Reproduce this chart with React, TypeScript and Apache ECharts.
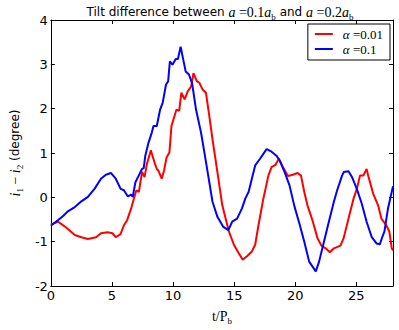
import React, { useEffect, useRef } from "react";
import * as echarts from "echarts";

const seriesNames = ["α=0.01", "α=0.1"];
const seriesColors = ["#ff0000", "#0000ff"];

const redT = [0, 0.6, 1.15, 1.96, 2.5, 3.03, 3.7, 4.1, 4.64, 5.04, 5.31, 5.7, 5.98, 6.25, 6.57, 6.79, 7.0, 7.2, 7.46, 7.67, 7.86, 8.18, 8.48, 8.67, 8.8, 9.07, 9.26, 9.47, 9.7, 9.87, 10.28, 10.5, 10.68, 10.95, 11.2, 11.48, 11.67, 11.94, 12.16, 12.42, 12.69, 12.96, 13.23, 13.63, 14.03, 14.57, 14.98, 15.38, 15.7, 16.05, 16.45, 16.72, 16.99, 17.39, 17.8, 18.06, 18.38, 18.65, 19.0, 19.4, 19.8, 20.2, 20.47, 20.74, 21.0, 21.4, 21.82, 22.14, 22.49, 22.83, 23.16, 23.7, 23.96, 24.36, 24.77, 25.04, 25.3, 25.57, 25.84, 25.97, 26.38, 26.78, 27.05, 27.45, 27.7, 27.9, 28.0];
const redY = [-0.61, -0.55, -0.66, -0.85, -0.9, -0.94, -0.9, -0.81, -0.79, -0.81, -0.9, -0.83, -0.63, -0.51, -0.25, -0.03, 0.16, 0.12, 0.57, 0.46, 0.75, 1.06, 0.79, 0.64, 0.6, 0.42, 0.6, 0.9, 1.01, 1.61, 1.98, 1.95, 2.36, 2.21, 2.39, 2.5, 2.8, 2.62, 2.58, 2.43, 2.36, 1.85, 1.3, 0.57, -0.18, -0.77, -1.07, -1.26, -1.41, -1.33, -1.22, -1.07, -0.63, -0.03, 0.49, 0.68, 0.73, 0.87, 0.68, 0.48, 0.51, 0.55, 0.49, 0.12, -0.18, -0.51, -0.92, -1.09, -1.15, -1.24, -1.15, -1.09, -0.92, -0.48, -0.03, 0.19, 0.49, 0.49, 0.64, 0.49, 0.08, -0.18, -0.48, -0.63, -0.77, -1.15, -1.2];

const blueT = [0, 0.6, 1.0, 1.42, 1.96, 2.5, 3.03, 3.57, 4.1, 4.5, 4.91, 5.31, 5.71, 5.98, 6.3, 6.57, 6.7, 6.92, 7.19, 7.46, 7.6, 7.73, 8.0, 8.26, 8.4, 8.67, 8.94, 9.15, 9.42, 9.6, 9.74, 9.95, 10.22, 10.4, 10.62, 10.81, 11.03, 11.3, 11.56, 11.88, 12.29, 12.56, 12.83, 13.23, 13.63, 14.09, 14.52, 14.84, 15.24, 15.64, 15.91, 16.18, 16.45, 16.72, 17.12, 17.39, 17.66, 18.06, 18.46, 18.73, 19.13, 19.53, 19.94, 20.34, 20.74, 21.14, 21.68, 21.95, 22.35, 22.75, 23.16, 23.43, 23.83, 23.97, 24.36, 24.64, 25.04, 25.44, 25.84, 26.25, 26.65, 26.92, 27.13, 27.3, 27.59, 27.95, 28.0];
const blueY = [-0.64, -0.51, -0.42, -0.31, -0.22, -0.09, 0.01, 0.19, 0.42, 0.51, 0.55, 0.42, 0.19, 0.16, 0.02, 0.06, 0.01, 0.34, 0.49, 0.64, 0.66, 0.94, 1.24, 1.46, 1.61, 1.61, 1.98, 2.13, 2.54, 2.62, 3.07, 2.99, 3.12, 3.12, 3.4, 3.14, 2.84, 2.77, 2.57, 1.98, 1.46, 1.02, 0.57, -0.1, -0.44, -0.66, -0.74, -0.55, -0.48, -0.25, -0.03, 0.12, 0.42, 0.72, 0.87, 0.98, 1.09, 1.03, 0.94, 0.83, 0.57, 0.27, -0.21, -0.59, -1.0, -1.45, -1.67, -1.45, -1.0, -0.55, -0.1, 0.16, 0.49, 0.57, 0.59, 0.46, 0.19, -0.14, -0.55, -0.89, -1.04, -1.06, -0.89, -0.77, -0.25, 0.19, 0.25];

const xMin = 0, xMax = 28, xStep = 5;
const yMin = -2, yMax = 4, yStep = 1;

export default function App() {
  const ref = useRef<HTMLDivElement>(null);
  useEffect(() => {
    const chart = echarts.init(ref.current!, null, { renderer: "svg" });
    const zip = (t: number[], y: number[]) => t.map((v, i) => [v, y[i]]);
    const serif = "'Liberation Serif', 'DejaVu Serif', serif";
    const sans = "'DejaVu Sans', sans-serif";
    const rich: any = {
      n: { fontFamily: sans, fontSize: 12, color: "#000", fill: "#000" },
      m: { fontFamily: serif, fontStyle: "italic", fontSize: 14, color: "#000", fill: "#000" },
      r: { fontFamily: serif, fontSize: 14, color: "#000", fill: "#000" },
      s: { fontFamily: serif, fontSize: 9, color: "#000", fill: "#000", padding: [9, 0, 0, 0] },
    };
    const legendRich: any = {
      g: { width: 5 },
      m: { fontFamily: serif, fontStyle: "italic", fontSize: 13, color: "#000" },
      r: { fontFamily: serif, fontSize: 13, color: "#000" },
    };
    const frameX = (pos: string, show: boolean) => ({
      type: "value",
      position: pos,
      min: xMin,
      max: xMax,
      interval: xStep,
      axisLine: { show: true, onZero: false, lineStyle: { color: "#000", width: 1 } },
      axisTick: { show: true, inside: true, length: 4, lineStyle: { color: "#000" } },
      axisLabel: {
        show,
        showMaxLabel: false,
        color: "#000",
        fontFamily: sans,
        fontSize: 13,
        margin: 3,
      },
      splitLine: { show: false },
    });
    const frameY = (pos: string, show: boolean) => ({
      type: "value",
      position: pos,
      min: yMin,
      max: yMax,
      interval: yStep,
      axisLine: { show: true, onZero: false, lineStyle: { color: "#000", width: 1 } },
      axisTick: { show: true, inside: true, length: 4, lineStyle: { color: "#000" } },
      axisLabel: { show, color: "#000", fontFamily: sans, fontSize: 13, margin: 3 },
      splitLine: { show: false },
    });
    const xa0: any = frameX("bottom", true);
    xa0.name = "{r|t/P}{s|b}";
    xa0.nameLocation = "middle";
    xa0.nameGap = 21;
    xa0.nameTextStyle = { rich };
    const ya0: any = frameY("left", true);
    ya0.name = "{m|i}{s|1}{r| − }{m|i}{s|2}{n| (degree)}";
    ya0.nameLocation = "middle";
    ya0.nameRotate = 90;
    ya0.nameGap = 25;
    ya0.nameTextStyle = { rich };

    chart.setOption({
      animation: false,
      backgroundColor: "#fff",
      grid: { left: 46, right: 6, top: 20, bottom: 42, containLabel: false },
      graphic: [
        {
          type: "text",
          x: 220,
          y: 3,
          style: {
            text: "{n|Tilt difference between }{m|a}{r| =0.1}{m|a}{s|b}{n| and }{m|a}{r| =0.2}{m|a}{s|b}",
            rich,
            align: "center",
            textAlign: "center",
            verticalAlign: "top",
            textVerticalAlign: "top",
          },
        },
      ],
      legend: {
        orient: "vertical",
        right: 9,
        top: 24,
        itemWidth: 18,
        itemHeight: 2,
        itemGap: 1,
        icon: "rect",
        padding: [3, 7, 4, 7],
        borderColor: "#000",
        borderWidth: 1,
        borderRadius: 0,
        backgroundColor: "#fff",
        data: seriesNames,
        formatter: (name: string) => `{g|}{m|α}{r| ${name.slice(1)}}`,
        textStyle: { rich: legendRich, lineHeight: 14, color: "#000" },
      },
      xAxis: [xa0, frameX("top", false)],
      yAxis: [ya0, frameY("right", false)],
      series: [
        {
          name: seriesNames[0],
          type: "line",
          data: zip(redT, redY),
          showSymbol: false,
          symbol: "none",
          color: seriesColors[0],
          lineStyle: { color: seriesColors[0], width: 2 },
        },
        {
          name: seriesNames[1],
          type: "line",
          data: zip(blueT, blueY),
          showSymbol: false,
          symbol: "none",
          color: seriesColors[1],
          lineStyle: { color: seriesColors[1], width: 2 },
        },
      ],
    });
    return () => chart.dispose();
  }, []);
  return (
    <div
      ref={ref}
      style={{ position: "absolute", left: 0, top: 0, width: 399, height: 330 }}
    />
  );
}
